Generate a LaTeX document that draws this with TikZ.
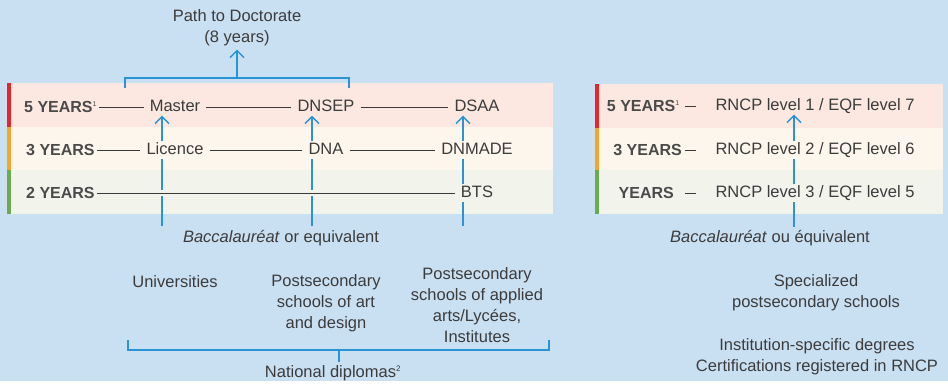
\documentclass[tikz,border=0pt]{standalone}
\usepackage{fontspec}
\setmainfont{Liberation Sans}
\usetikzlibrary{arrows.meta, positioning}
\definecolor{bgblue}{HTML}{C9DFF2}
\definecolor{band5}{HTML}{FCE8E0}
\definecolor{band3}{HTML}{FDF6EC}
\definecolor{band2}{HTML}{F2F4EC}
\definecolor{bar5}{HTML}{E8242A}
\definecolor{bar3}{HTML}{F4A62A}
\definecolor{bar2}{HTML}{6BAA4E}
\definecolor{linkblue}{HTML}{2A93D5}
\definecolor{linegray}{HTML}{3A3A3A}
\definecolor{txtgray}{HTML}{3C3C3C}
\definecolor{labgray}{HTML}{4A4A4A}

\begin{document}
\begin{tikzpicture}[
         x=1pt, y=-1pt,
         years/.style={font=\fontsize{16}{18}\selectfont\bfseries, text=labgray, inner xsep=2pt, inner ysep=0pt},
         degree/.style={font=\fontsize{16.5}{19}\selectfont, text=txtgray, inner xsep=6pt, inner ysep=1pt, text height=12pt, text depth=3pt},
         note/.style={font=\fontsize{16.5}{21}\selectfont, text=txtgray, align=center},
         rung/.style={draw=linegray, line width=0.9pt},
         link/.style={draw=linkblue, line width=1.4pt},
         uparrow/.style={link, -{Straight Barb[length=7pt,width=14pt]}},
         halo/.style={preaction={draw=band2, line width=6pt}}
      ]
         % Background and bands
         \fill[bgblue] (0,0) rectangle (948,381);
         \fill[band5] (7,83) rectangle (553,127);
         \fill[band3] (7,127) rectangle (553,170);
         \fill[band2] (7,170) rectangle (553,214);
         \fill[bar5] (7,83) rectangle (11,127);
         \fill[bar3] (7,127) rectangle (11,170);
         \fill[bar2] (7,170) rectangle (11,214);
         \fill[band5] (595,84) rectangle (943,128);
         \fill[band3] (595,128) rectangle (943,170);
         \fill[band2] (595,170) rectangle (943,214);
         \fill[bar5] (595,84) rectangle (599,128);
         \fill[bar3] (595,128) rectangle (599,170);
         \fill[bar2] (595,170) rectangle (599,214);

         % Nodes for year labels and degrees
         \node[years, anchor=west] (l5) at (22,107) {5 YEARS\textsuperscript{\mdseries\fontsize{7}{7}\selectfont 1}};
         \node[years, anchor=west] (l3) at (24,150) {3 YEARS};
         \node[years, anchor=west] (l2) at (24,193) {2 YEARS};
         \node[degree] (master) at (175,107) {Master};
         \node[degree] (dnsep) at (326,107) {DNSEP};
         \node[degree] (dsaa) at (477,107) {DSAA};
         \node[degree] (licence) at (175,150) {Licence};
         \node[degree] (dna) at (326,150) {DNA};
         \node[degree] (dnmade) at (477,150) {DNMADE};
         \node[degree] (bts) at (477,193) {BTS};

         \node[years, anchor=east] (r5) at (682,106) {5 YEARS\textsuperscript{\mdseries\fontsize{7}{7}\selectfont 1}};
         \node[years, anchor=east] (r3) at (684,150) {3 YEARS};
         \node[years, anchor=east] (r2) at (676,193) {YEARS};
         \node[degree] (rn1) at (815,106) {RNCP level 1 / EQF level 7};
         \node[degree] (rn2) at (815,150) {RNCP level 2 / EQF level 6};
         \node[degree] (rn3) at (815,193) {RNCP level 3 / EQF level 5};

         % Notes
         \node[note] (doc) at (237,28) {Path to Doctorate\\(8 years)};
         \node[note] (bacl) at (281,238) {\textit{Baccalauréat} or equivalent};
         \node[note] (bacr) at (770,238) {\textit{Baccalauréat} ou équivalent};
         \node[note] (univ) at (175,282) {Universities};
         \node[note] (artsch) at (326,303) {Postsecondary\\schools of art\\and design};
         \node[note] (appsch) at (477,305) {Postsecondary\\schools of applied\\arts/Lycées,\\Institutes};
         \node[note] (natl) at (333,373) {National diplomas\textsuperscript{\fontsize{8}{8}\selectfont 2}};
         \node[note] (spec) at (816,293) {Specialized\\postsecondary schools};
         \node[note] (certs) at (817,357) {Institution-specific degrees\\Certifications registered in RNCP};

         % Rungs
         \draw[rung] (l5.east) -- (master.west);
         \draw[rung] (master.east) -- (dnsep.west);
         \draw[rung] (dnsep.east) -- (dsaa.west);
         \draw[rung] (l3.east) -- (licence.west);
         \draw[rung] (licence.east) -- (dna.west);
         \draw[rung] (dna.east) -- (dnmade.west);
         \coordinate (dashstart) at (685,0);
         \coordinate (dashend) at (696,0);
         \draw[rung] (r5.east -| dashstart) -- (r5.east -| dashend);
         \draw[rung] (r3.east -| dashstart) -- (r3.east -| dashend);
         \draw[rung] (r2.east -| dashstart) -- (r2.east -| dashend);

         % Arrows up the columns
         \coordinate (c1) at (162,226);
         \coordinate (c2) at (312,226);
         \coordinate (c3) at (463,226);
         \draw[link] (c1) -- (c1 |- licence.south);
         \draw[uparrow] (c1 |- licence.north) -- (c1 |- master.south);
         \draw[link] (c2) -- (c2 |- dna.south);
         \draw[uparrow] (c2 |- dna.north) -- (c2 |- dnsep.south);
         \draw[link] (c3) -- (c3 |- bts.south);
         \draw[link] (c3 |- bts.north) -- (c3 |- dnmade.south);
         \draw[uparrow] (c3 |- dnmade.north) -- (c3 |- dsaa.south);
         \draw[rung, halo] (l2.east) -- (bts.west);

         \coordinate (rc) at (794,227);
         \draw[link] (rc) -- (rc |- rn3.south);
         \draw[link] (rc |- rn3.north) -- (rc |- rn2.south);
         \draw[uparrow] (rc |- rn2.north) -- (rc |- rn1.south);

         % Brackets
         \draw[link] (125,88) -- (125,78) -- (349,78) -- (349,88);
         \coordinate (topbrk) at (237,78);
         \draw[uparrow] (topbrk) -- (doc.south);
         \draw[link] (128,340) -- (128,350) -- (549,350) -- (549,340);
         \coordinate (natbrk) at (339,350);
         \draw[link] (natbrk) -- (natbrk |- natl.north);
      \end{tikzpicture}
\end{document}
